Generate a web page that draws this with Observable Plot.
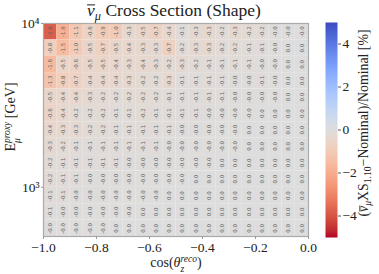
<!DOCTYPE html>
<html><head><meta charset="utf-8">
<script src="https://cdn.jsdelivr.net/npm/d3@7"></script>
<script src="https://cdn.jsdelivr.net/npm/@observablehq/plot@0.6"></script>
<style>
body{margin:0;background:#fff;}
#wrap{position:relative;width:379px;height:274px;font-family:"Liberation Serif",serif;overflow:hidden;color:#222}
#wrap svg{position:absolute;top:0}
.lbl{position:absolute;white-space:nowrap;line-height:1.1}
.ss{display:inline-flex;flex-direction:column;vertical-align:0.5em;font-size:0.68em;line-height:1.05;text-align:left}
sub{font-size:0.7em;vertical-align:-0.3em;line-height:0}
i{font-style:italic}
.bar{display:inline-block;border-top:1.2px solid #222;line-height:0.62em;padding-top:0.5px}
</style></head><body><div id="wrap"></div>
<script>
// cos(theta_z^reco) bin edges
const cosEdges = [-1.0,-0.95,-0.9,-0.85,-0.8,-0.75,-0.7,-0.65,-0.6,-0.55,-0.5,-0.45,-0.4,-0.35,-0.3,-0.25,-0.2,-0.15,-0.1,-0.05,0.0];
// E_mu^proxy bin edges [GeV] (log-spaced)
const energyEdges = [501.2,631.0,794.3,1000,1258.9,1584.9,1995.3,2511.9,3162.3,3981.1,5011.9,6309.6,7943.3,10000];
// percent change, rows from highest energy bin (top) to lowest (bottom)
const pctChange = [
  [-3.8,-1.9,-1.1,-0.6,-0.9,-1.0,-0.3,-0.5,-0.7,-0.4,-0.1,-0.3,-0.3,-0.2,-0.3,-0.2,-0.2,-0.04,-0.03,-0.02],
  [-0.8,-1.5,-1.0,-0.5,-0.7,-0.5,-0.4,-0.3,-0.3,-0.7,-0.2,-0.3,-0.3,-0.2,-0.2,-0.1,-0.1,-0.03,0.01,0.02],
  [-1.6,-0.5,-0.6,-0.5,-0.5,-0.4,-0.3,-0.4,-0.3,-0.2,-0.3,-0.2,-0.1,-0.1,-0.1,-0.1,-0.04,-0.03,0.01,0.01],
  [-1.3,-0.8,-0.7,-0.4,-0.4,-0.4,-0.3,-0.2,-0.2,-0.3,-0.1,-0.1,-0.1,-0.1,-0.04,-0.04,-0.1,-0.03,0.01,0.01],
  [-0.5,-0.4,-0.4,-0.3,-0.2,-0.2,-0.2,-0.2,-0.2,-0.1,-0.1,-0.1,-0.1,-0.1,-0.04,-0.04,-0.04,-0.03,0.01,0.01],
  [-0.6,-0.4,-0.2,-0.2,-0.2,-0.1,-0.1,-0.2,-0.1,-0.1,-0.1,-0.1,-0.04,-0.04,-0.03,-0.03,0.01,0.01,0.01,0.01],
  [-0.4,-0.3,-0.3,-0.2,-0.2,-0.1,-0.1,-0.1,-0.1,-0.1,-0.04,-0.04,-0.03,-0.03,-0.03,0.01,0.01,0.01,0.01,0.01],
  [-0.3,-0.2,-0.1,-0.1,-0.1,-0.1,-0.1,-0.1,-0.1,-0.04,-0.04,-0.03,-0.03,-0.03,-0.02,0.01,0.01,0.01,0.01,0.01],
  [-0.2,-0.1,-0.1,-0.1,-0.1,-0.1,-0.04,-0.04,-0.04,-0.04,-0.03,-0.03,-0.02,0.01,0.01,0.01,0.01,0.01,0.01,0.01],
  [-0.2,-0.1,-0.1,-0.04,-0.04,-0.04,-0.04,-0.03,-0.03,-0.03,-0.02,0.01,0.01,0.01,0.01,0.01,0.01,0.01,0.01,0.01],
  [-0.1,-0.1,-0.04,-0.04,-0.04,-0.03,-0.03,-0.02,-0.02,0.01,0.01,0.01,0.01,0.01,0.01,0.01,0.01,0.01,0.01,0.01],
  [-0.1,-0.04,-0.04,-0.03,-0.03,-0.03,-0.02,0.01,0.01,0.01,0.01,0.01,0.01,0.01,0.01,0.01,0.01,0.01,0.01,0.01],
  [-0.04,-0.03,-0.03,-0.02,-0.02,0.01,0.01,0.01,0.01,0.01,0.01,0.01,0.01,0.01,0.01,0.01,0.01,0.01,0.01,0.01]
];
const xTicks = [-1.0,-0.8,-0.6,-0.4,-0.2,0.0];
const yTicks = [1000,10000];
const yTickLabels = ["10³","10⁴"];
const cbTicks = [-4,-2,0,2,4];
// coolwarm (reversed: red for negative, blue for positive)
const coolwarmR = ["#b40426","#c0282f","#cb3e38","#d55042","#de604d","#e57058","#ec7f63","#f18d6f","#f49a7b","#f7a688","#f7b194","#f7bba0","#f5c4ad","#f1ccb8","#ecd3c5","#e5d8d1","#dddddd","#d5dbe6","#ccd9ee","#c2d5f4","#b8d0f9","#aec9fd","#a3c2ff","#98b9ff","#8db0fe","#82a6fb","#779af7","#6c8ff1","#6282ea","#5875e1","#4d68d7","#445acc","#3b4cc0"];

const rows = energyEdges.length - 1;
const cells = [];
pctChange.forEach((row, r) => row.forEach((v, c) => {
  const k = rows - 1 - r;
  cells.push({x1: cosEdges[c], x2: cosEdges[c+1], y1: energyEdges[k], y2: energyEdges[k+1], v});
}));
const colorOpt = {type: "linear", domain: [-5, 5], interpolate: d3.piecewise(d3.interpolateRgb, coolwarmR)};
const fmt = d3.format(".1f");

const main = Plot.plot({
  width: 379, height: 274,
  marginLeft: 43, marginRight: 71, marginTop: 23, marginBottom: 38,
  style: {fontFamily: "Liberation Serif", fontSize: "13.5px", color: "#222", background: "transparent", overflow: "visible"},
  x: {domain: [cosEdges[0], cosEdges[cosEdges.length-1]]},
  y: {type: "log", domain: [energyEdges[0], energyEdges[rows]]},
  color: colorOpt,
  marks: [
    Plot.rect(cells, {x1: "x1", x2: "x2", y1: "y1", y2: "y2", fill: "v"}),
    Plot.text(cells, {x: d => (d.x1 + d.x2) / 2, y: d => Math.sqrt(d.y1 * d.y2), text: d => d.v.toFixed(1), rotate: -90, fontSize: 5.5, fill: "#666", fontFamily: "DejaVu Sans"}),
    Plot.frame({stroke: "#aaa", strokeWidth: 1.2}),
    Plot.axisX({ticks: xTicks, tickFormat: fmt, tickSize: 3, tickPadding: 3, stroke: "#999", label: null}),
    Plot.axisY({ticks: yTicks, tickFormat: d => yTickLabels[yTicks.indexOf(d)], tickSize: 2, tickPadding: 2, stroke: "#999", label: null})
  ]
});

const cb = Plot.plot({
  width: 54, height: 274,
  marginLeft: 0, marginRight: 42, marginTop: 22, marginBottom: 37,
  style: {fontFamily: "Liberation Serif", fontSize: "13.5px", color: "#222", background: "transparent", overflow: "visible"},
  x: {domain: [0, 1], axis: null},
  y: {domain: [-5, 5]},
  color: colorOpt,
  marks: [
    Plot.raster({fill: (x, y) => y, x1: 0, x2: 1, y1: -5, y2: 5, width: 1, height: 256, imageRendering: "auto"}),
    Plot.axisY({anchor: "right", ticks: cbTicks, tickFormat: d3.format("d"), tickSize: 3, tickPadding: 2, stroke: "#555", label: null})
  ]
});

const wrap = document.getElementById("wrap");
main.style.left = "0px";
cb.style.left = "325px";
wrap.appendChild(main);
wrap.appendChild(cb);

function addLabel(html, x, y, size, rotate) {
  const d = document.createElement("div");
  d.className = "lbl";
  d.innerHTML = html;
  d.style.left = x + "px";
  d.style.top = y + "px";
  d.style.fontSize = size + "px";
  d.style.transform = "translate(-50%,-50%)" + (rotate ? " rotate(-90deg)" : "");
  wrap.appendChild(d);
}
addLabel('<span class="bar"><i>ν</i></span><sub><i>μ</i></sub> Cross Section (Shape)', 174, 11, 17.5, false);
addLabel('cos(<i>θ</i><span class="ss"><i>reco</i><i>z</i></span>)', 176, 264, 14, false);
addLabel('E<span class="ss"><i>proxy</i><i>μ</i></span> [GeV]', 12, 117, 14, true);
addLabel('(<span class="bar"><i>ν</i></span><sub><i>μ</i></sub>XS<sub>1.10</sub>−Nominal)/Nominal [%]', 364, 123, 13.8, true);
</script></body></html>
